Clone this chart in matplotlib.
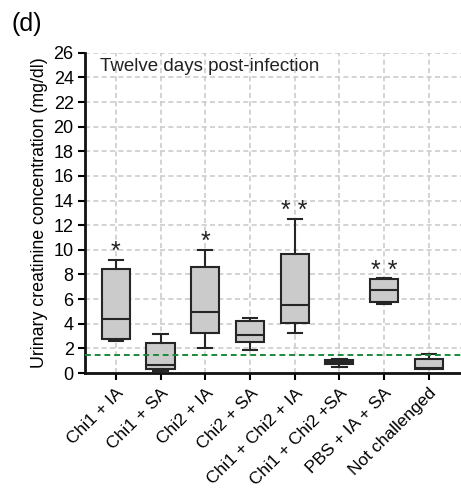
import matplotlib
matplotlib.use("Agg")
import matplotlib.pyplot as plt

# Группы и статистика боксов
GROUPS = ["Chi1 + IA", "Chi1 + SA", "Chi2 + IA", "Chi2 + SA",
          "Chi1 + Chi2 + IA", "Chi1 + Chi2 +SA", "PBS + IA + SA", "Not challenged"]
WHISLO = [2.6, 0.2, 2.0, 1.87, 3.24, 0.5, 5.57, 0.36]
Q1 = [2.75, 0.35, 3.24, 2.5, 4.06, 0.77, 5.76, 0.36]
MED = [4.35, 0.63, 4.97, 3.1, 5.5, 0.9, 6.75, 0.4]
Q3 = [8.45, 2.47, 8.6, 4.2, 9.7, 1.05, 7.6, 1.1]
WHISHI = [9.2, 3.2, 10.0, 4.47, 12.5, 1.13, 7.7, 1.56]
STARS = ["*", "", "*", "", "* *", "", "* *", ""]
BASELINE = 1.45
Y_TICKS = list(range(0, 27, 2))

plt.rcParams["font.family"] = ["Liberation Sans", "DejaVu Sans"]

fig = plt.figure(figsize=(4.61, 4.98), dpi=100)
ax = fig.add_axes([0.184, 0.251, 0.816, 0.643])

stats = []
for i, name in enumerate(GROUPS):
    stats.append({"label": name, "whislo": WHISLO[i], "q1": Q1[i], "med": MED[i],
                  "q3": Q3[i], "whishi": WHISHI[i], "fliers": []})
pos = list(range(1, len(GROUPS) + 1))

edge = "#262626"
ax.bxp(stats, positions=pos, widths=0.63, patch_artist=True, showfliers=False,
       boxprops=dict(facecolor="#cbcbcb", edgecolor=edge, linewidth=1.5),
       medianprops=dict(color=edge, linewidth=1.5),
       whiskerprops=dict(color=edge, linewidth=1.5),
       capprops=dict(color=edge, linewidth=1.5),
       capwidths=0.32, zorder=3)

# звёздочки значимости
for p, s, top in zip(pos, STARS, WHISHI):
    if s:
        ax.text(p, top + 0.05, s, ha="center", va="baseline", fontsize=18, color="#222222")

ax.axhline(BASELINE, color="#1a8a3a", linestyle=(0, (3, 2)), linewidth=1.4, zorder=4)

ax.set_xlim(0.307, 8.72)
ax.set_ylim(0, 26)
ax.set_yticks(Y_TICKS)
ax.set_xticks(pos)
ax.set_xticklabels(GROUPS, rotation=45, ha="right", rotation_mode="anchor", fontsize=12.5)
ax.tick_params(axis="y", labelsize=13, width=1.5, length=5, pad=3)
ax.tick_params(axis="x", width=1.5, length=5, pad=4)

ax.grid(True, color="#cccccc", linestyle=(0, (3, 2)), linewidth=1.2, zorder=0)
ax.set_axisbelow(True)
for s in ["top", "right"]:
    ax.spines[s].set_visible(False)
for s in ["left", "bottom"]:
    ax.spines[s].set_linewidth(2)
    ax.spines[s].set_color("#111111")

ax.set_ylabel("Urinary creatinine concentration (mg/dl)", fontsize=12.8, labelpad=4)
ax.text(0.04, 0.985, "Twelve days post-infection", transform=ax.transAxes,
        ha="left", va="top", fontsize=13.5, color="#222222")
fig.text(0.025, 0.975, "(d)", ha="left", va="top", fontsize=18)

fig.savefig("out.png", dpi=100)
